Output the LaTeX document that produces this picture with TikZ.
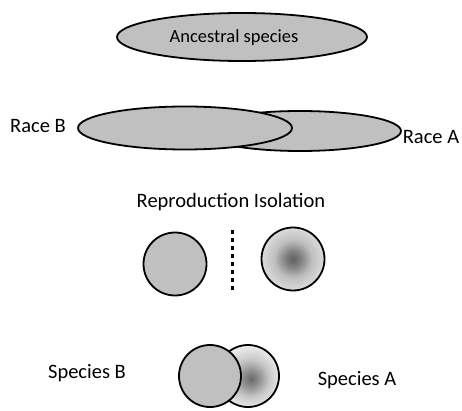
\documentclass[tikz,border=0pt]{standalone}
\usepackage{fontspec}
\setmainfont{Carlito}
\pgfdeclareradialshading{spot}{\pgfpoint{0bp}{0bp}}{color(0bp)=(black!62); color(6bp)=(black!50); color(15bp)=(black!25); color(25bp)=(black!14); color(50bp)=(black!14)}
\pgfdeclareradialshading{spotb}{\pgfpoint{2.5bp}{-2.5bp}}{color(0bp)=(black!58); color(6bp)=(black!45); color(15bp)=(black!22); color(25bp)=(black!8); color(50bp)=(black!8)}
\definecolor{ellfill}{RGB}{192,192,192}
\begin{document}
\begin{tikzpicture}[x=1pt,y=-1pt,
  blob/.style={draw=black, line width=1.8pt, fill=ellfill},
  lbl/.style={font=\fontsize{20.5}{24}\selectfont, inner sep=0pt},
  spotblob/.style={draw=black, line width=1.8pt, shading=spot}]
\useasboundingbox (0,0) rectangle (462,411);
% ancestral
\draw[blob] (242,37) ellipse [x radius=125, y radius=24];
\node[lbl, font=\fontsize{18.5}{22}\selectfont] (anc) at (234,38) {Ancestral species};
% races
\draw[blob] (300,131) ellipse [x radius=101, y radius=20];
\draw[blob] (185,128) ellipse [x radius=107, y radius=21.5];
\node[lbl] (raceB) at (38,126) {Race B};
\node[lbl] (raceA) at (431,137) {Race A};
% isolation
\node[lbl] (iso) at (231,202) {Reproduction Isolation};
\draw[blob] (175,264) circle [radius=31.5];
\draw[black, line width=3.5pt, dash pattern=on 3.5pt off 4.5pt] (232.5,230) -- (232.5,290);
\draw[spotblob] (293,259) circle [radius=31.5];
% species
\draw[draw=black, line width=1.8pt, shading=spotb] (248,376) circle [radius=31];
\draw[blob] (210,376) circle [radius=31];
\node[lbl] (spB) at (87,373) {Species B};
\node[lbl] (spA) at (357,380) {Species A};
\end{tikzpicture}
\end{document}
